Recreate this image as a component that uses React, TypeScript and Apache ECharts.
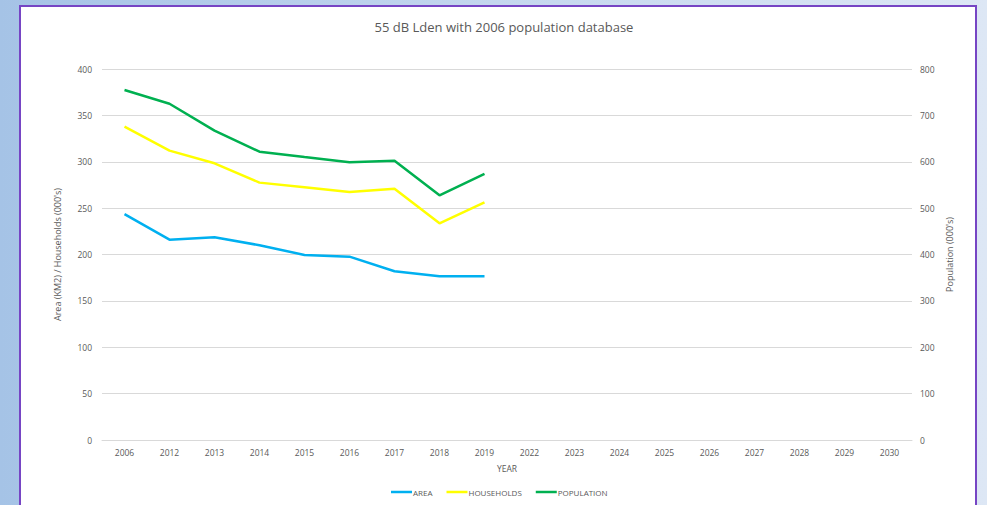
import React, { useEffect, useRef } from "react";
import * as echarts from "echarts";

const years = ["2006", "2012", "2013", "2014", "2015", "2016", "2017", "2018", "2019", "2022", "2023", "2024", "2025", "2026", "2027", "2028", "2029", "2030"];
const area = [243.6, 216, 218.5, 210, 199.5, 197.7, 182, 176.5, 176.5];
const households = [337.8, 312, 298.3, 277.5, 272.5, 267.4, 271, 233.6, 256.3];
const population = [754.7, 725, 667, 621.7, 610, 598.8, 602.3, 527.7, 573.6];

const FONT = "'Open Sans', 'Noto Sans', sans-serif";

export default function App() {
  const ref = useRef<HTMLDivElement>(null);
  useEffect(() => {
    if (!ref.current) return;
    const chart = echarts.init(ref.current, undefined, { renderer: "svg" });
    chart.setOption({
      animation: false,
      backgroundColor: "transparent",
      textStyle: { fontFamily: FONT },
      graphic: [
        {
          type: "rect",
          z: -10,
          silent: true,
          shape: { x: 20, y: 6, width: 956, height: 520 },
          style: { fill: "#ffffff", stroke: "#7645c4", lineWidth: 2 },
        },
      ],
      title: {
        text: "55 dB Lden with 2006 population database",
        left: 499,
        textAlign: "center",
        top: 15,
        textStyle: { fontSize: 13, fontWeight: "normal", color: "#595959", fontFamily: FONT },
      },
      legend: {
        bottom: 4,
        left: 386,
        icon: "rect",
        itemWidth: 21,
        itemHeight: 2.5,
        itemGap: 14,
        textStyle: { fontSize: 8, color: "#595959", fontFamily: FONT, padding: [0, 0, 0, -4] },
        data: ["AREA", "HOUSEHOLDS", "POPULATION"],
      },
      grid: { left: 102, right: 75, top: 69, bottom: 65, containLabel: false },
      xAxis: {
        type: "category",
        data: years,
        boundaryGap: true,
        name: "YEAR",
        nameLocation: "middle",
        nameGap: 24,
        nameTextStyle: { fontSize: 8.5, color: "#595959" },
        axisLine: { lineStyle: { color: "#d9d9d9" } },
        axisTick: { show: false },
        axisLabel: { fontSize: 8.5, color: "#595959", margin: 8 },
      },
      yAxis: [
        {
          type: "value",
          min: 0,
          max: 400,
          interval: 50,
          name: "Area (KM2) / Households (000's)",
          nameLocation: "middle",
          nameGap: 40,
          nameTextStyle: { fontSize: 9, color: "#595959" },
          axisLine: { show: false },
          axisTick: { show: false },
          axisLabel: { fontSize: 8.5, color: "#595959", margin: 10 },
          splitLine: { lineStyle: { color: "#d9d9d9" } },
        },
        {
          type: "value",
          min: 0,
          max: 800,
          interval: 100,
          position: "right",
          name: "Population (000's)",
          nameLocation: "middle",
          nameGap: 33,
          nameTextStyle: { fontSize: 9, color: "#595959" },
          axisLine: { show: false },
          axisTick: { show: false },
          axisLabel: { fontSize: 8.5, color: "#595959", margin: 8 },
          splitLine: { show: false },
        },
      ],
      series: [
        {
          name: "AREA",
          type: "line",
          data: area,
          yAxisIndex: 0,
          showSymbol: false,
          symbol: "none",
          lineStyle: { width: 2.5, color: "#00b0f0" },
          itemStyle: { color: "#00b0f0" },
        },
        {
          name: "HOUSEHOLDS",
          type: "line",
          data: households,
          yAxisIndex: 0,
          showSymbol: false,
          symbol: "none",
          lineStyle: { width: 2.5, color: "#ffff00" },
          itemStyle: { color: "#ffff00" },
        },
        {
          name: "POPULATION",
          type: "line",
          data: population,
          yAxisIndex: 1,
          showSymbol: false,
          symbol: "none",
          lineStyle: { width: 2.5, color: "#00b050" },
          itemStyle: { color: "#00b050" },
        },
      ],
    });
    return () => chart.dispose();
  }, []);
  return (
    <div
      style={{
        position: "absolute",
        left: 0,
        top: 0,
        width: 987,
        height: 505,
        background: "linear-gradient(90deg, #a5c3e6 0%, #c4d7ee 50%, #dde7f5 100%)",
        overflow: "hidden",
      }}
    >
      <div ref={ref} style={{ width: 987, height: 505 }} />
    </div>
  );
}
